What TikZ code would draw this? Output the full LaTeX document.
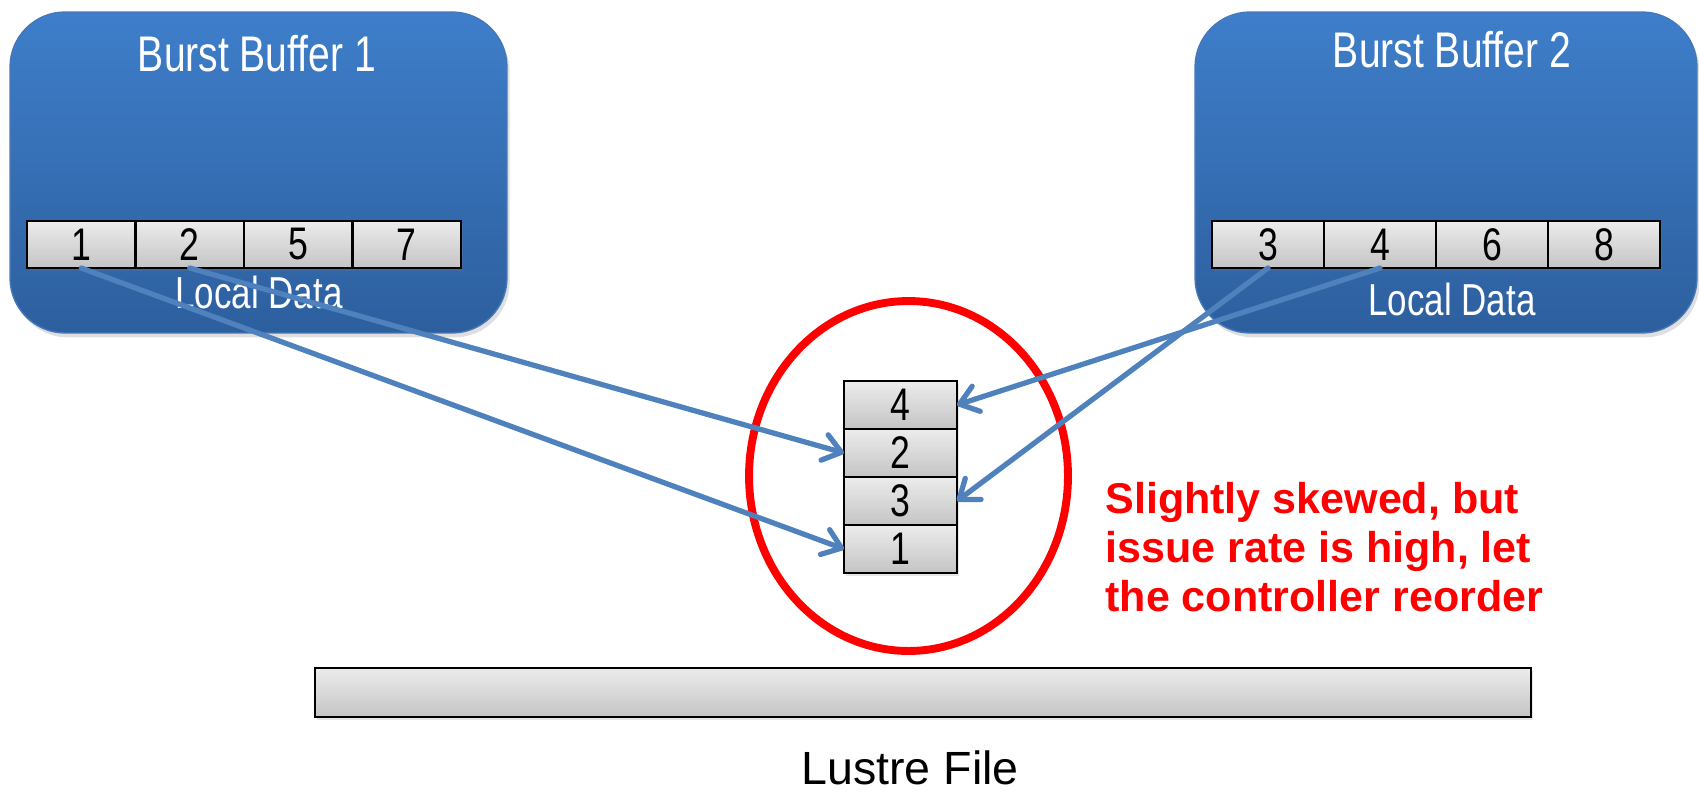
\documentclass[tikz,border=0pt]{standalone}
\usepackage{fontspec}
\setmainfont{Liberation Sans}
\newfontfamily\narrowsans[FakeStretch=0.78]{Liberation Sans}
\usetikzlibrary{arrows.meta,shapes.geometric,shadows}

\definecolor{bbtop}{RGB}{62,126,202}
\definecolor{bbbottom}{RGB}{45,95,158}
\definecolor{bbedge}{RGB}{70,120,185}
\definecolor{cellhi}{RGB}{236,236,236}
\definecolor{celllo}{RGB}{196,196,196}
\definecolor{linkblue}{RGB}{79,129,189}

\tikzset{
  bufferbox/.style={rounded corners=1.1cm, top color=bbtop, bottom color=bbbottom,
    draw=bbedge, line width=0.8pt, inner sep=0, outer sep=0,
    drop shadow={opacity=0.25, shadow xshift=1.5pt, shadow yshift=-2.5pt}},
  bbtext/.style={text=white, inner sep=0},
  slotbox/.style={draw=black, line width=1.3pt, top color=cellhi, bottom color=celllo,
    inner sep=0, outer sep=0, font=\narrowsans\fontsize{26}{30}\selectfont,
    drop shadow={opacity=0.2, shadow xshift=1pt, shadow yshift=-1.5pt}},
  moveline/.style={draw=linkblue, line width=3pt, line cap=round,
    -{Straight Barb[length=10pt,width=15pt,round]}}
}

\begin{document}
\begin{tikzpicture}[x=0.02cm, y=-0.02cm]
\useasboundingbox (0,0) rectangle (1699,791);

% burst buffers
\node (bb1) [bufferbox, minimum width=9.94cm, minimum height=6.42cm] at (258.5,172.5) {};
\node (bb2) [bufferbox, minimum width=10.04cm, minimum height=6.42cm] at (1446,172.5) {};
\node (title1) [bbtext, font=\narrowsans\fontsize{28.5}{33}\selectfont] at (257,54) {Burst Buffer 1};
\node (title2) [bbtext, font=\narrowsans\fontsize{28.5}{33}\selectfont] at (1452,50) {Burst Buffer 2};
\node (local1) [bbtext, font=\narrowsans\fontsize{25.5}{30}\selectfont] at (259,292) {Local Data};
\node (local2) [bbtext, font=\narrowsans\fontsize{25.5}{30}\selectfont] at (1452,299) {Local Data};

% local data slots
\node (c1) [slotbox, minimum width=2.17cm, minimum height=0.94cm] at (81.25,244.5) {1};
\node (c2) [slotbox, minimum width=2.17cm, minimum height=0.94cm] at (189.75,244.5) {2};
\node (c5) [slotbox, minimum width=2.17cm, minimum height=0.94cm] at (298.25,244.5) {5};
\node (c7) [slotbox, minimum width=2.17cm, minimum height=0.94cm] at (406.75,244.5) {7};

\node (d3) [slotbox, minimum width=2.24cm, minimum height=0.94cm] at (1268,244.5) {3};
\node (d4) [slotbox, minimum width=2.24cm, minimum height=0.94cm] at (1380,244.5) {4};
\node (d6) [slotbox, minimum width=2.24cm, minimum height=0.94cm] at (1492,244.5) {6};
\node (d8) [slotbox, minimum width=2.24cm, minimum height=0.94cm] at (1604,244.5) {8};

% controller queue
\node (ring) [ellipse, draw=red, line width=4.5pt, inner sep=0,
  minimum width=6.38cm, minimum height=7cm] at (908.5,476) {};
\node (s4) [slotbox, minimum width=2.26cm, minimum height=0.96cm] at (900.5,405) {4};
\node (s2) [slotbox, minimum width=2.26cm, minimum height=0.96cm] at (900.5,453) {2};
\node (s3) [slotbox, minimum width=2.26cm, minimum height=0.96cm] at (900.5,501) {3};
\node (s1) [slotbox, minimum width=2.26cm, minimum height=0.96cm] at (900.5,549) {1};

\draw [moveline] (c1.south) -- (s1.west);
\draw [moveline] (c2.south) -- (s2.west);
\draw [moveline] (d3.south) -- (s3.east);
\draw [moveline] (d4.south) -- (s4.east);

\node (note) [anchor=north west, inner sep=0, align=left, text=red,
  font=\bfseries\fontsize{24.5}{27.9}\selectfont] at (1105,482)
  {Slightly skewed, but\\issue rate is high, let\\the controller reorder};

% lustre file
\node (lname) [inner sep=0, font=\fontsize{26.5}{31}\selectfont] at (910,768) {Lustre File};
\node (lfile) [slotbox, minimum width=24.32cm, minimum height=0.98cm] at (923,692.5) {};
\end{tikzpicture}
\end{document}
